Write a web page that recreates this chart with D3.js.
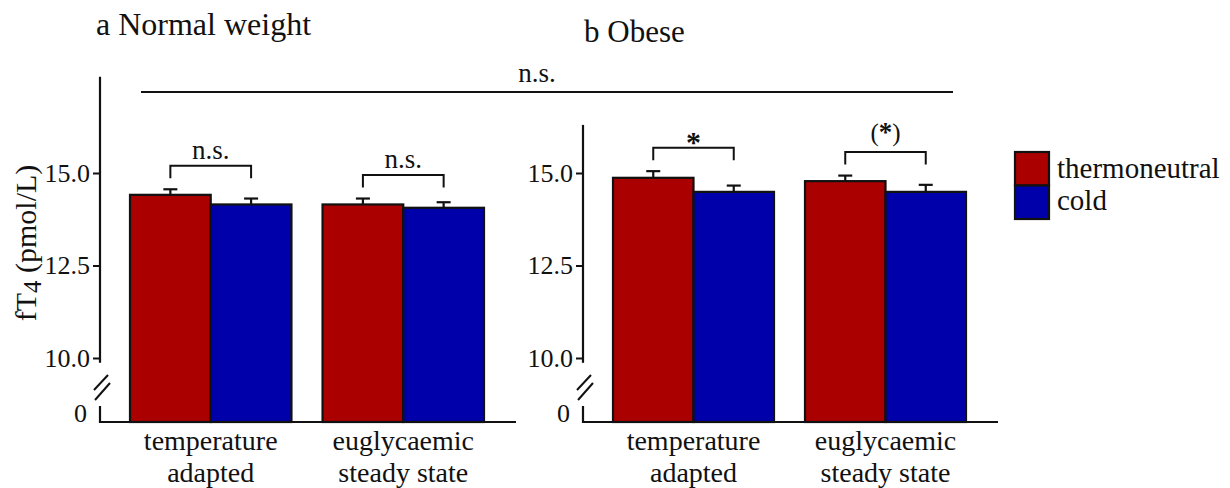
<!DOCTYPE html>
<html>
<head>
<meta charset="utf-8">
<script src="https://cdn.jsdelivr.net/npm/d3@7"></script>
<style>
  html, body { margin: 0; padding: 0; background: #fff; }
  svg { display: block; }
</style>
</head>
<body>
<svg id="chart" width="1230" height="488"></svg>
<script>
// Groups along the x axis (two-line labels)
const groups = ["temperature adapted", "euglycaemic steady state"];
const groupLines = [["temperature", "adapted"], ["euglycaemic", "steady state"]];
const series = ["thermoneutral", "cold"];
const seriesColors = ["#aa0000", "#0000aa"];

// fT4 (pmol/L), mean and SEM
const normalThermo = [14.41, 14.15];
const normalThermoSE = [0.15, 0.16];
const normalCold = [14.15, 14.06];
const normalColdSE = [0.16, 0.15];

const obeseThermo = [14.87, 14.78];
const obeseThermoSE = [0.18, 0.15];
const obeseCold = [14.49, 14.49];
const obeseColdSE = [0.17, 0.19];

// Significance marks per group, and across panels
const normalSig = ["n.s.", "n.s."];
const obeseSig = ["*", "(*)"];
const overallSig = "n.s.";

const yTicks = [10, 12.5, 15];
const yTickLabels = ["10.0", "12.5", "15.0"];

const FONT = "'Liberation Serif'";

const svg = d3.select("#chart");

function label(parent, x, y, str, size, anchor) {
  return parent.append("text")
    .attr("x", x).attr("y", y)
    .attr("text-anchor", anchor || "start")
    .style("font-family", FONT)
    .style("font-size", size + "px")
    .attr("fill", "#111")
    .text(str);
}

// shared y scale (broken axis: values below 10 collapse onto the baseline)
const baseY = 422;
const y = d3.scaleLinear().domain([10, 15]).range([358, 173]);

function drawPanel(opt) {
  const g = svg.append("g");
  const x0 = opt.axisX, x1 = opt.axisEnd;

  const xGroup = d3.scaleBand().domain(groups)
    .range([x0 + 30, x1 - 32]).paddingInner(0.1615);
  const xSeries = d3.scaleBand().domain(series)
    .range([0, xGroup.bandwidth()]);

  const rows = [];
  groups.forEach((grp, i) => {
    rows.push({ grp, s: series[0], v: opt.thermo[i], se: opt.thermoSE[i], c: seriesColors[0] });
    rows.push({ grp, s: series[1], v: opt.cold[i], se: opt.coldSE[i], c: seriesColors[1] });
  });
  const cx = d => xGroup(d.grp) + xSeries(d.s) + xSeries.bandwidth() / 2;

  // bars
  g.selectAll("rect.bar").data(rows).join("rect")
    .attr("class", "bar")
    .attr("x", d => xGroup(d.grp) + xSeries(d.s))
    .attr("y", d => y(d.v))
    .attr("width", xSeries.bandwidth())
    .attr("height", d => baseY - y(d.v))
    .attr("fill", d => d.c)
    .attr("stroke", "#111")
    .attr("stroke-width", 2.2);

  // error bars (upper only)
  const eb = g.selectAll("g.err").data(rows).join("g").attr("class", "err");
  eb.append("line")
    .attr("x1", cx).attr("x2", cx)
    .attr("y1", d => y(d.v))
    .attr("y2", d => y(d.v + d.se))
    .attr("stroke", "#111").attr("stroke-width", 2.2);
  eb.append("line")
    .attr("x1", d => cx(d) - 7).attr("x2", d => cx(d) + 7)
    .attr("y1", d => y(d.v + d.se))
    .attr("y2", d => y(d.v + d.se))
    .attr("stroke", "#111").attr("stroke-width", 2.2);

  // y axis: upper segment with ticks
  const axis = d3.axisLeft(y).tickValues(yTicks)
    .tickFormat((d, i) => yTickLabels[i]).tickSizeOuter(0).tickSize(7).tickPadding(3);
  const ag = g.append("g").attr("transform", `translate(${x0},0)`).call(axis);
  ag.select(".domain").remove();
  ag.selectAll(".tick line").attr("stroke", "#111").attr("stroke-width", 2);
  ag.selectAll(".tick text").attr("fill", "#111")
    .style("font-family", FONT).style("font-size", "26px");
  g.append("line")
    .attr("x1", x0).attr("x2", x0)
    .attr("y1", y(opt.yTop)).attr("y2", y(9.87))
    .attr("stroke", "#111").attr("stroke-width", 2.2);
  // lower segment + x axis
  g.append("path")
    .attr("d", `M${x0},${baseY - 16}V${baseY}H${x1}`)
    .attr("fill", "none").attr("stroke", "#111").attr("stroke-width", 2.2);
  // break marks
  [[-6, 390, 8, 375], [-5, 400, 10, 383]].forEach(b => {
    g.append("line")
      .attr("x1", x0 + b[0]).attr("y1", b[1])
      .attr("x2", x0 + b[2]).attr("y2", b[3])
      .attr("stroke", "#111").attr("stroke-width", 2);
  });
  label(g, x0 - 13, baseY, "0", 26, "end");

  // group labels, two lines each
  groupLines.forEach((lines, i) => {
    const gx = xGroup(groups[i]) + xGroup.bandwidth() / 2;
    lines.forEach((ln, j) => label(g, gx, 450 + j * 32, ln, 28, "middle"));
  });

  // within-group comparison brackets
  groups.forEach((grp, i) => {
    const cxa = xGroup(grp) + xSeries(series[0]) + xSeries.bandwidth() / 2;
    const cxb = xGroup(grp) + xSeries(series[1]) + xSeries.bandwidth() / 2;
    const topErr = Math.min(y(opt.thermo[i] + opt.thermoSE[i]), y(opt.cold[i] + opt.coldSE[i]));
    const legY = topErr - 11;
    const barY = legY - 12.5;
    g.append("path")
      .attr("d", `M${cxa},${legY}V${barY}H${cxb}V${legY}`)
      .attr("fill", "none").attr("stroke", "#111").attr("stroke-width", 2);
    const lab = opt.sig[i];
    if (lab === "n.s.") {
      label(g, (cxa + cxb) / 2, barY - 7, lab, 27, "middle");
    } else if (lab === "*") {
      label(g, (cxa + cxb) / 2, barY + 4, lab, 30, "middle").style("font-weight", "bold");
    } else {
      const t = label(g, (cxa + cxb) / 2, barY - 11, null, 25, "middle");
      t.append("tspan").text("(");
      t.append("tspan").style("font-weight", "bold").style("font-size", "27px").text("*");
      t.append("tspan").text(")");
    }
  });

  // panel title
  label(g, opt.titleX, opt.titleY, opt.title, opt.titleSize);

  return { xGroup, xSeries };
}

drawPanel({
  axisX: 100, axisEnd: 516, yTop: 17.6,
  thermo: normalThermo, thermoSE: normalThermoSE,
  cold: normalCold, coldSE: normalColdSE,
  sig: normalSig, title: "a Normal weight", titleX: 96, titleY: 35, titleSize: 32
});
drawPanel({
  axisX: 583, axisEnd: 998, yTop: 16.3,
  thermo: obeseThermo, thermoSE: obeseThermoSE,
  cold: obeseCold, coldSE: obeseColdSE,
  sig: obeseSig, title: "b Obese", titleX: 584, titleY: 42, titleSize: 31
});

// comparison across panels
svg.append("line").attr("x1", 141).attr("x2", 953).attr("y1", 92).attr("y2", 92)
  .attr("stroke", "#111").attr("stroke-width", 2.2);
label(svg, 537, 82, overallSig, 27, "middle");

// y axis title with subscript
const yl = svg.append("text")
  .attr("transform", "translate(36,243) rotate(-90)")
  .attr("text-anchor", "middle")
  .style("font-family", FONT).style("font-size", "30px").attr("fill", "#111");
yl.append("tspan").text("fT");
yl.append("tspan").attr("dy", 5).style("font-size", "25px").text("4");
yl.append("tspan").attr("dy", -5).text(" (pmol/L)");

// legend
const lg = svg.append("g").attr("transform", "translate(1015,152)");
series.forEach((s, i) => {
  lg.append("rect").attr("x", 0).attr("y", i * 33.5).attr("width", 34).attr("height", 33.5)
    .attr("fill", seriesColors[i]).attr("stroke", "#111").attr("stroke-width", 2.2);
  label(lg, 42, 26 + i * 32, s, 29);
});
</script>
</body>
</html>
